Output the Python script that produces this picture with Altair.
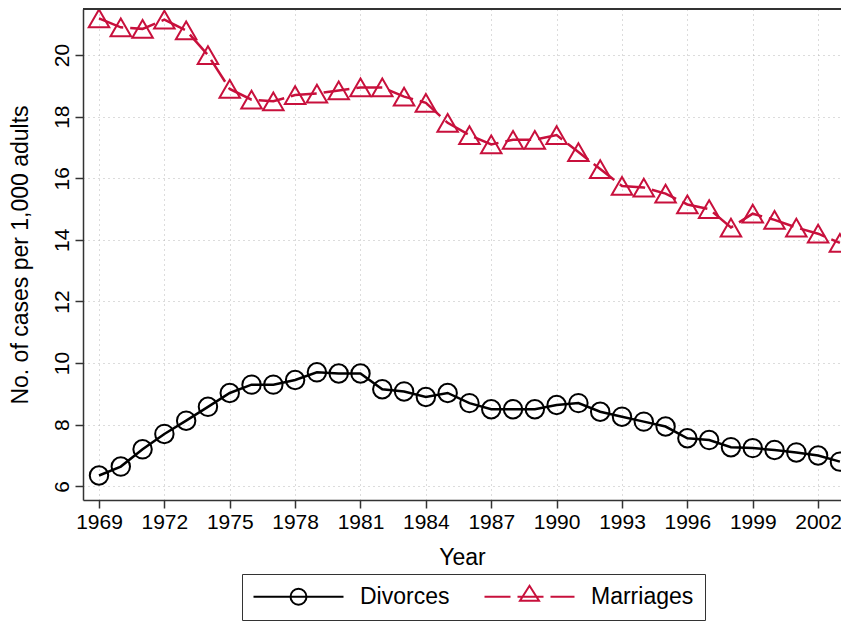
import altair as alt
import pandas as pd

years = list(range(1969, 2004))
divorces = [6.35, 6.64, 7.20, 7.70, 8.13, 8.58, 9.03, 9.30, 9.30, 9.45,
            9.70, 9.66, 9.66, 9.15, 9.08, 8.90, 9.03, 8.70, 8.50, 8.50,
            8.50, 8.64, 8.70, 8.42, 8.26, 8.10, 7.94, 7.56, 7.50, 7.27,
            7.24, 7.18, 7.10, 7.00, 6.80]
marriages = [21.19, 20.90, 20.85, 21.15, 20.80, 20.00, 18.90, 18.55, 18.50, 18.70,
             18.75, 18.85, 18.95, 18.95, 18.65, 18.45, 17.80, 17.40, 17.10, 17.25,
             17.25, 17.40, 16.85, 16.30, 15.75, 15.70, 15.50, 15.15, 15.00, 14.40,
             14.85, 14.65, 14.40, 14.20, 13.90]
series = ["Divorces", "Marriages"]
colors = ["#000000", "#C8103C"]
x_ticks = list(range(1969, 2003, 3))
y_ticks = [6, 8, 10, 12, 14, 16, 18, 20]

df = pd.DataFrame({
    "year": years * 2,
    "value": divorces + marriages,
    "series": [series[0]] * len(years) + [series[1]] * len(years),
})

FONT = "Liberation Sans"
W, H = 758, 491

x = alt.X("year:Q",
          scale=alt.Scale(domain=[1968.266, 2003.05], nice=False, zero=False),
          axis=alt.Axis(values=x_ticks, format="d", title="Year",
                        tickSize=8, labelPadding=3, titlePadding=14))
y = alt.Y("value:Q",
          scale=alt.Scale(domain=[5.555, 21.495], nice=False, zero=False),
          axis=alt.Axis(values=y_ticks, title="No. of cases per 1,000 adults",
                        labelAngle=270, tickSize=8, labelPadding=3, titlePadding=19))

base = alt.Chart(df).encode(x=x, y=y)

line_div = base.transform_filter(alt.datum.series == "Divorces").mark_line(
    color=colors[0], strokeWidth=2.5, clip=True)
pt_div = base.transform_filter(alt.datum.series == "Divorces").mark_point(
    shape="circle", size=340, color=colors[0], strokeWidth=2, filled=False,
    opacity=1, clip=True)
line_mar = base.transform_filter(alt.datum.series == "Marriages").mark_line(
    color=colors[1], strokeWidth=2.5, strokeDash=[26, 7], clip=True)
pt_mar = base.transform_filter(alt.datum.series == "Marriages").mark_point(
    shape="triangle-up", size=420, color=colors[1], strokeWidth=2, filled=False,
    opacity=1, clip=True)

# top frame line of the plot area (the right side runs off the page in the original)
top_frame = alt.Chart(df).mark_rule(color="#333", strokeWidth=1.5).encode(
    y=alt.value(0), x=alt.value(0), x2=alt.value(W))

path_div = "M-4.5,0H4.5M-0.8,0A0.8,0.8,0,1,1,0.8,0A0.8,0.8,0,1,1,-0.8,0"
path_mar = "M-4.5,0H-1.9M-1.2,0H1.4M2.1,0H4.5M0,-1.1L0.95,0.4L-0.95,0.4Z"

leg = alt.Legend(title=None, orient="none", legendX=159, legendY=565,
                 direction="horizontal", symbolSize=400, symbolStrokeWidth=2,
                 symbolOffset=34, labelOffset=50, columnPadding=30,
                 labelFont=FONT, labelFontSize=23, labelColor="black",
                 strokeColor="#333", padding=11, fillColor="white",
                 symbolFillColor="transparent", symbolOpacity=1)

legend_layer = base.transform_filter("false").mark_point(filled=False, opacity=1).encode(
    color=alt.Color("series:N", scale=alt.Scale(domain=series, range=colors), legend=leg),
    shape=alt.Shape("series:N", scale=alt.Scale(domain=series, range=[path_div, path_mar]), legend=leg),
)

chart = alt.layer(line_div, line_mar, pt_div, pt_mar, top_frame, legend_layer).properties(
    width=W, height=H,
    autosize=alt.AutoSizeParams(type="none"),
    padding={"left": 75, "top": 1, "right": 0, "bottom": 123},
    background="white"
).configure_view(
    strokeWidth=0
).configure_axis(
    domainColor="#333", domainWidth=1.5, tickColor="#333", tickWidth=1.5,
    gridColor="#b8b8b8", gridDash=[1, 4], gridWidth=1,
    labelFont=FONT, titleFont=FONT, labelFontSize=21, titleFontSize=23,
    labelColor="black", titleColor="black", titleFontWeight="normal"
)

chart.save("out.html", embed_options={"renderer": "svg", "actions": False})
